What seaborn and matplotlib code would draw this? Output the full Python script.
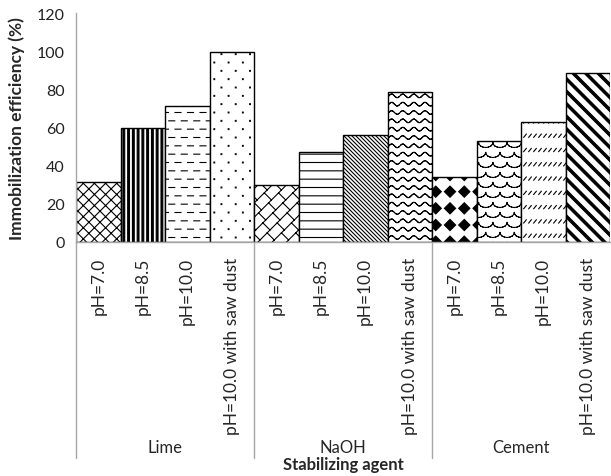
import warnings
warnings.filterwarnings("ignore")
import numpy as np
import pandas as pd
import matplotlib
matplotlib.use("Agg")
import matplotlib.pyplot as plt
import matplotlib.hatch as mhatch
from matplotlib.path import Path
import seaborn as sns

# ---------------- data ----------------
agents = ["Lime", "NaOH", "Cement"]
conditions = ["pH=7.0", "pH=8.5", "pH=10.0", "pH=10.0 with saw dust"]
lime_vals = [31, 59.5, 71, 99.5]
naoh_vals = [29.5, 47, 56, 78.5]
cement_vals = [34, 53, 63, 88.5]
x_title = "Stabilizing agent"
y_title = "Immobilization efficiency (%)"
y_ticks = [0, 20, 40, 60, 80, 100, 120]

# ---------------- custom hatch patterns (tile = 100 px) ----------------
T = 100.0
CUSTOM = {}

def _segs(seglist):
    v, c = [], []
    for (x0, y0), (x1, y1) in seglist:
        v += [(x0 / T, y0 / T), (x1 / T, y1 / T)]
        c += [Path.MOVETO, Path.LINETO]
    return v, c

def _polys(plist):
    v, c = [], []
    for pts in plist:
        for i, (x, y) in enumerate(pts):
            v.append((x / T, y / T))
            c.append(Path.MOVETO if i == 0 else Path.LINETO)
        v.append((pts[0][0] / T, pts[0][1] / T))
        c.append(Path.CLOSEPOLY)
    return v, c

def _merge(*parts):
    v, c = [], []
    for pv, pc in parts:
        v += pv
        c += pc
    return np.array(v, float), np.array(c, Path.code_type)

def diag_fwd(n):  # '/'
    return [((k * T / n, 0), (k * T / n + T, T)) for k in range(-n, n + 1)]

def diag_back(n):  # '\'
    return [((k * T / n, T), (k * T / n + T, 0)) for k in range(-n, n + 1)]

# a: crosshatch
CUSTOM["a"] = _merge(_segs(diag_fwd(9) + diag_back(9)))
# b: thick vertical stripes
_n = 21
CUSTOM["b"] = _merge(_polys([[(k * T / _n - 0.9, -1), (k * T / _n + 0.9, -1),
                               (k * T / _n + 0.9, T + 1), (k * T / _n - 0.9, T + 1)]
                              for k in range(0, _n + 1)]))
# c: dashed horizontal
_rows, _per = 12, 12.5
_s = []
for r in range(_rows):
    y = (r + 0.5) * T / _rows
    off = (_per / 2) * (r % 2)
    for j in range(-1, int(T / _per) + 1):
        x0 = j * _per + off
        _s.append(((x0, y), (x0 + 6.0, y)))
CUSTOM["c"] = _merge(_segs(_s))
# d: staggered dots
_p = []
_rows, _cols = 12, 7
for r in range(_rows):
    y = (r + 0.5) * T / _rows
    off = (T / _cols / 2) * (r % 2)
    for j in range(-1, _cols + 1):
        x = j * T / _cols + off
        _p.append([(x - 0.4, y - 0.4), (x + 0.4, y - 0.4), (x + 0.4, y + 0.4), (x - 0.4, y + 0.4)])
CUSTOM["d"] = _merge(_polys(_p))
# e: diagonal brick
_n, _m = 7, 10
_s = diag_fwd(_n)
for k in range(-2 * _n, 2 * _n + 1):
    ck = k * T / _n
    off = ((k * 4) % _n) / _n * (T / _m)
    for j in range(-2 * _m, 2 * _m + 1):
        s = j * T / _m + off
        a = T / (2 * _n)
        _s.append(((s, s + ck), (s - a, s + ck + a)))
CUSTOM["e"] = _merge(_segs(_s))
# f: horizontal lines
CUSTOM["f"] = _merge(_segs([((-1, (r + 0.5) * T / 12), (T + 1, (r + 0.5) * T / 12)) for r in range(12)]))
# g: dense back diagonal
CUSTOM["g"] = _merge(_segs(diag_back(25)))
# h: waves
_s = []
_rows, _per, _amp = 12, T / 9, 1.8
for r in range(_rows):
    y = (r + 0.5) * T / _rows
    xs = np.linspace(0, T, 9 * 10 + 1)
    ys = y + _amp * np.sin(2 * np.pi * xs / _per)
    for i in range(len(xs) - 1):
        _s.append(((xs[i], ys[i]), (xs[i + 1], ys[i + 1])))
CUSTOM["h"] = _merge(_segs(_s))
# i: black diamonds
_p = []
_rows, _cols, _hw = 6, 7, 5.6
for r in range(-1, _rows + 1):
    y = (r + 0.5) * T / _rows
    for j in range(-1, _cols + 1):
        x = (j + 0.5) * T / _cols
        _p.append([(x - _hw, y), (x, y - _hw), (x + _hw, y), (x, y + _hw)])
CUSTOM["i"] = _merge(_polys(_p))
# j: scales
_s = []
_rows, _cols = 10, 7
_w = T / _cols
for r in range(-1, _rows + 1):
    y = (r + 0.5) * T / _rows
    off = (_w / 2) * (r % 2)
    for j in range(-1, _cols + 1):
        x0 = j * _w + off
        th = np.linspace(np.pi, 2 * np.pi, 9)
        xs = x0 + _w / 2 + (_w / 2) * np.cos(th)
        ys = y + 5.0 * np.sin(th) + 2.5
        for i in range(len(xs) - 1):
            _s.append(((xs[i], ys[i]), (xs[i + 1], ys[i + 1])))
CUSTOM["j"] = _merge(_segs(_s))
# k: rows of short slashes
_s = []
_rows, _cols = 7, 20
for r in range(_rows):
    y = (r + 0.5) * T / _rows
    for j in range(_cols + 1):
        x = j * T / _cols
        _s.append(((x - 1.3, y - 1.6), (x + 1.3, y + 1.6)))
CUSTOM["k"] = _merge(_segs(_s))
# l: thick back diagonal stripes
_n, _w = 8, 1.7
CUSTOM["l"] = _merge(_polys([[(k * T / _n - _w, T), (k * T / _n + _w, T),
                               (k * T / _n + T + _w, 0), (k * T / _n + T - _w, 0)]
                              for k in range(-_n, _n + 1)]))


class CustomHatch:
    def __init__(self, hatch, density):
        self.parts = [CUSTOM[ch] for ch in hatch if ch in CUSTOM]
        self.num_vertices = sum(len(v) for v, _ in self.parts)

    def set_vertices_and_codes(self, vertices, codes):
        i = 0
        for v, c in self.parts:
            n = len(v)
            vertices[i:i + n] = v
            codes[i:i + n] = c
            i += n


mhatch._hatch_types.append(CustomHatch)

# ---------------- plot ----------------
sns.set_style("white")
plt.rcParams["font.family"] = ["Lato", "DejaVu Sans"]
plt.rcParams["hatch.color"] = "black"
plt.rcParams["hatch.linewidth"] = 0.8

values = lime_vals + naoh_vals + cement_vals
groups = [a for a in agents for _ in conditions]
conds = conditions * len(agents)
keys = [f"{g}|{c}" for g, c in zip(groups, conds)]
df = pd.DataFrame({"key": keys, "value": values, "agent": groups, "cond": conds})

fig = plt.figure(figsize=(6.11, 4.77), dpi=100)
ax = fig.add_axes([76 / 611, 1 - 242.5 / 477, 534 / 611, (242.5 - 14) / 477])

sns.barplot(data=df, x="key", y="value", order=keys, color="white", saturation=1,
            width=1.0, edgecolor="black", linewidth=1.0, ax=ax)

hatches = ["a", "b", "c", "d", "e", "f", "g", "h", "i", "j", "k", "l"]
for patch, h in zip(ax.patches, hatches):
    patch.set_hatch(h)
    patch.set_edgecolor("black")

ax.set_xlim(-0.5, len(keys) - 0.5)
ax.set_ylim(0, 120)
ax.set_yticks(y_ticks)
ax.set_yticklabels([str(t) for t in y_ticks], fontsize=11.5, color="#222222")
ax.set_xticks(range(len(keys)))
ax.set_xticklabels(conds, rotation=90, fontsize=12.5, va="top", ha="center")
ax.tick_params(axis="x", length=0, pad=11)
ax.tick_params(axis="y", length=5, width=1, color="#a6a6a6", direction="out", pad=3)

for side in ["top", "right"]:
    ax.spines[side].set_visible(False)
for side in ["left", "bottom"]:
    ax.spines[side].set_color("#a6a6a6")
    ax.spines[side].set_linewidth(1.0)

ax.set_xlabel("")
ax.set_ylabel(y_title, fontsize=12.5, fontweight="bold")
ax.yaxis.set_label_coords(-0.0955, 0.5)

trans = ax.get_xaxis_transform()
n_per = len(conditions)
for gi, agent in enumerate(agents):
    left = gi * n_per - 0.5
    ax.plot([left, left], [0, -0.948], transform=trans, color="#a6a6a6", lw=1.0,
            clip_on=False, zorder=0)
    ax.text(left + n_per / 2, -0.90, agent, transform=trans, ha="center", va="center",
            fontsize=12)
ax.text(0.5, -0.972, x_title, transform=ax.transAxes, ha="center", va="center",
        fontsize=12, fontweight="bold")

fig.savefig("out.png", dpi=100)
